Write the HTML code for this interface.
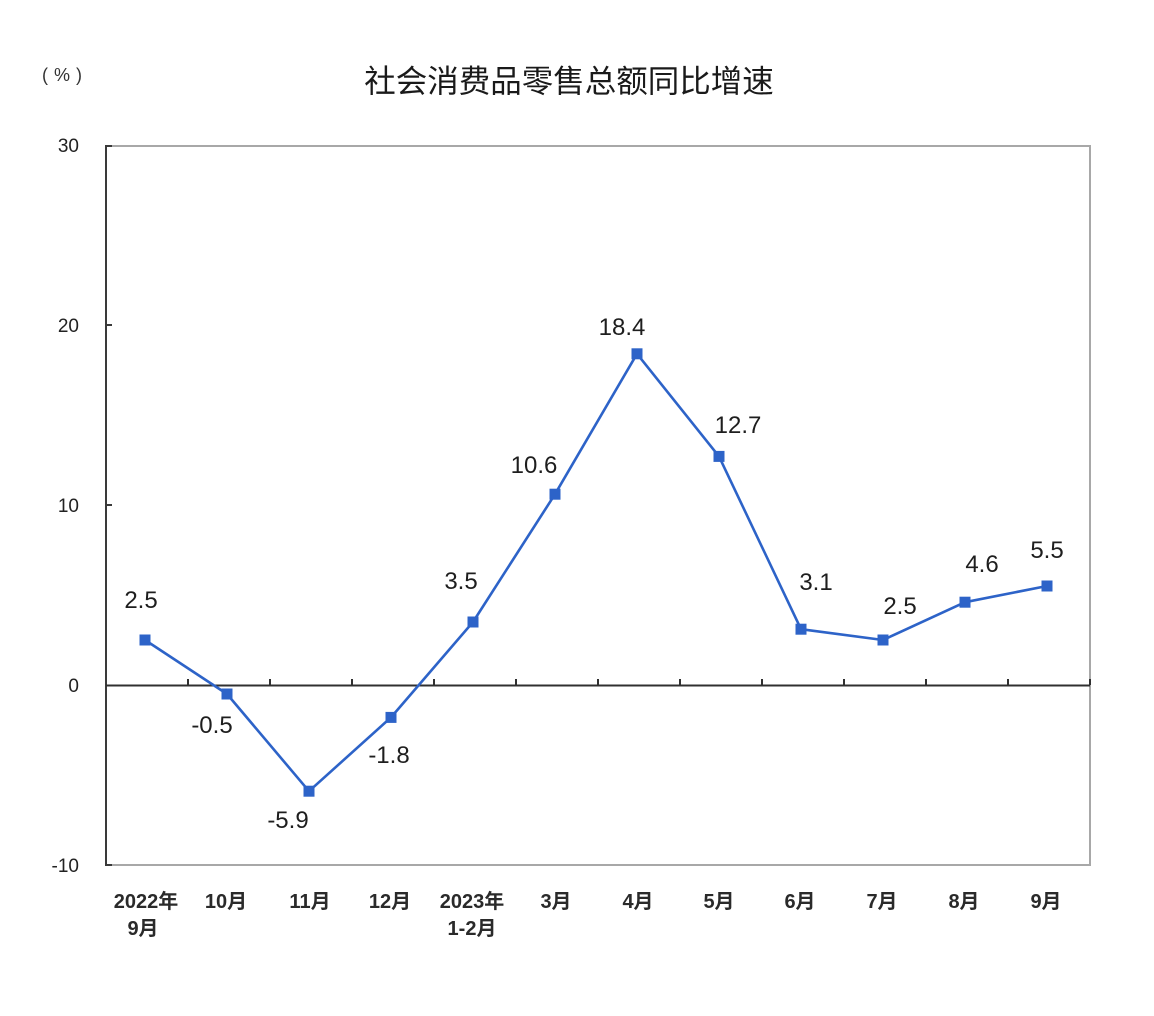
<!DOCTYPE html>
<html>
<head>
<meta charset="utf-8">
<style>
html,body{margin:0;padding:0;background:#fff;}
svg{display:block;}
.dl{font-family:"Liberation Sans",Arial,sans-serif;font-size:24px;fill:#1e1e1e;text-anchor:middle;}
.yl{font-family:"Liberation Sans",Arial,sans-serif;font-size:19px;fill:#222;text-anchor:end;}
.xl{font-family:"Liberation Sans","Noto Sans CJK SC",sans-serif;font-size:20px;font-weight:bold;fill:#2a2a2a;text-anchor:middle;}
.tt{font-family:"Liberation Sans","Noto Sans CJK SC",sans-serif;font-size:31.5px;fill:#1a1a1a;text-anchor:middle;}
.un{font-family:"Liberation Sans",sans-serif;font-size:18px;fill:#333;text-anchor:middle;}
</style>
</head>
<body>
<svg width="1154" height="1016" viewBox="0 0 1154 1016" xmlns="http://www.w3.org/2000/svg">
<rect x="0" y="0" width="1154" height="1016" fill="#fff"/>

<!-- title -->
<text class="tt" x="569" y="81" dominant-baseline="central">社会消费品零售总额同比增速</text>
<text class="un" x="45" y="81">(</text>
<text class="un" x="62" y="81">%</text>
<text class="un" x="79" y="81">)</text>

<!-- plot border -->
<line x1="106" y1="146" x2="1090" y2="146" stroke="#a8a8a8" stroke-width="2"/>
<line x1="1090" y1="145" x2="1090" y2="866" stroke="#a8a8a8" stroke-width="2"/>
<line x1="105" y1="865" x2="1091" y2="865" stroke="#a8a8a8" stroke-width="2"/>
<line x1="106" y1="145" x2="106" y2="866" stroke="#3a3a3a" stroke-width="2"/>

<!-- y ticks -->
<g stroke="#3a3a3a" stroke-width="2">
<line x1="106" y1="146" x2="112" y2="146"/>
<line x1="106" y1="325" x2="112" y2="325"/>
<line x1="106" y1="505" x2="112" y2="505"/>
<line x1="106" y1="865" x2="112" y2="865"/>
</g>

<!-- zero line -->
<line x1="106" y1="685.5" x2="1090" y2="685.5" stroke="#303030" stroke-width="2"/>
<g stroke="#303030" stroke-width="2">
<line x1="188" y1="685" x2="188" y2="679"/>
<line x1="270" y1="685" x2="270" y2="679"/>
<line x1="352" y1="685" x2="352" y2="679"/>
<line x1="434" y1="685" x2="434" y2="679"/>
<line x1="516" y1="685" x2="516" y2="679"/>
<line x1="598" y1="685" x2="598" y2="679"/>
<line x1="680" y1="685" x2="680" y2="679"/>
<line x1="762" y1="685" x2="762" y2="679"/>
<line x1="844" y1="685" x2="844" y2="679"/>
<line x1="926" y1="685" x2="926" y2="679"/>
<line x1="1008" y1="685" x2="1008" y2="679"/>
<line x1="1090" y1="685" x2="1090" y2="679"/>
</g>

<!-- y labels -->
<text class="yl" x="79" y="152">30</text>
<text class="yl" x="79" y="332">20</text>
<text class="yl" x="79" y="512">10</text>
<text class="yl" x="79" y="692">0</text>
<text class="yl" x="79" y="872">-10</text>

<!-- series -->
<polyline fill="none" stroke="#2d63c8" stroke-width="2.6" stroke-linejoin="round"
 points="145,640 227,694 309,791.2 391,717.4 473,622 555,494.2 637,353.8 719,456.4 801,629.2 883,640 965,602.2 1047,586"/>
<g fill="#2d63c8">
<rect x="139.5" y="634.5" width="11" height="11"/>
<rect x="221.5" y="688.5" width="11" height="11"/>
<rect x="303.5" y="785.7" width="11" height="11"/>
<rect x="385.5" y="711.9" width="11" height="11"/>
<rect x="467.5" y="616.5" width="11" height="11"/>
<rect x="549.5" y="488.7" width="11" height="11"/>
<rect x="631.5" y="348.3" width="11" height="11"/>
<rect x="713.5" y="450.9" width="11" height="11"/>
<rect x="795.5" y="623.7" width="11" height="11"/>
<rect x="877.5" y="634.5" width="11" height="11"/>
<rect x="959.5" y="596.7" width="11" height="11"/>
<rect x="1041.5" y="580.5" width="11" height="11"/>
</g>

<!-- data labels -->
<text class="dl" x="141" y="608">2.5</text>
<text class="dl" x="212" y="733">-0.5</text>
<text class="dl" x="288" y="828">-5.9</text>
<text class="dl" x="389" y="763">-1.8</text>
<text class="dl" x="461" y="589">3.5</text>
<text class="dl" x="534" y="473">10.6</text>
<text class="dl" x="622" y="335">18.4</text>
<text class="dl" x="738" y="433">12.7</text>
<text class="dl" x="816" y="590">3.1</text>
<text class="dl" x="900" y="614">2.5</text>
<text class="dl" x="982" y="572">4.6</text>
<text class="dl" x="1047" y="558">5.5</text>

<!-- x labels -->
<text class="xl" x="146" y="902" dominant-baseline="central">2022年</text>
<text class="xl" x="143" y="929" dominant-baseline="central">9月</text>
<text class="xl" x="226" y="902" dominant-baseline="central">10月</text>
<text class="xl" x="310" y="902" dominant-baseline="central">11月</text>
<text class="xl" x="390" y="902" dominant-baseline="central">12月</text>
<text class="xl" x="472" y="902" dominant-baseline="central">2023年</text>
<text class="xl" x="472" y="929" dominant-baseline="central">1-2月</text>
<text class="xl" x="556" y="902" dominant-baseline="central">3月</text>
<text class="xl" x="638" y="902" dominant-baseline="central">4月</text>
<text class="xl" x="719" y="902" dominant-baseline="central">5月</text>
<text class="xl" x="800" y="902" dominant-baseline="central">6月</text>
<text class="xl" x="882" y="902" dominant-baseline="central">7月</text>
<text class="xl" x="964" y="902" dominant-baseline="central">8月</text>
<text class="xl" x="1046" y="902" dominant-baseline="central">9月</text>
</svg>
</body>
</html>
